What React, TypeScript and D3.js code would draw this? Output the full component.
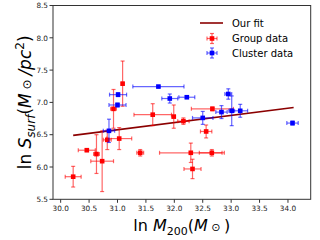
import React from "react";
import * as d3 from "d3";

// group data (red)
const groupX = [30.22, 30.46, 30.63, 30.73, 30.82, 31.03, 30.93, 31.09, 31.40, 31.62, 31.99, 32.16, 32.67, 32.56, 32.29, 32.66, 32.32];
const groupY = [5.85, 6.26, 6.20, 6.09, 6.42, 6.44, 6.90, 7.29, 6.22, 6.81, 6.78, 6.71, 6.90, 6.55, 6.22, 6.22, 5.97];
const groupXErr = [0.14, 0.15, 0.05, 0.2, 0.07, 0.22, 0.05, 0.02, 0.06, 0.33, 0.03, 0.1, 0.37, 0.1, 0.55, 0.22, 0.15];
const groupYErr = [0.16, 0.02, 0.3, 0.47, 0.15, 0.17, 0.3, 0.35, 0.05, 0.17, 0.18, 0.05, 0.03, 0.1, 0.15, 0.05, 0.15];

// cluster data (blue)
const clusterX = [31.01, 31.0, 30.85, 31.72, 31.92, 32.22, 32.5, 32.95, 33.01, 32.83, 33.16, 34.08];
const clusterY = [7.12, 6.96, 6.56, 7.245, 7.06, 7.08, 6.76, 7.13, 6.87, 6.85, 6.87, 6.68];
const clusterXErr = [0.15, 0.15, 0.1, 0.45, 0.14, 0.14, 0.18, 0.06, 0.05, 0.1, 0.13, 0.1];
const clusterYErr = [0.03, 0.03, 0.18, 0.01, 0.07, 0.02, 0.1, 0.08, 0.23, 0.1, 0.1, 0.03];

// fit line endpoints
const fitX = [30.22, 34.1];
const fitY = [6.49, 6.92];

const xTicks = [30.0, 30.5, 31.0, 31.5, 32.0, 32.5, 33.0, 33.5, 34.0];
const yTicks = [5.5, 6.0, 6.5, 7.0, 7.5, 8.0, 8.5];

const W = 320, H = 240;
const left = 53, right = 310.7, top = 5.5, bottom = 199.3;
const font = "DejaVu Sans, sans-serif";

const x = d3.scaleLinear().domain([29.865, 34.4]).range([left, right]);
const y = d3.scaleLinear().domain([5.5, 8.5]).range([bottom, top]);
const fmt = d3.format(".1f");

const ErrPoints = ({ xs, ys, xe, ye, color }) => (
  <g>
    {xs.map((v, i) => {
      const cx = x(v), cy = y(ys[i]);
      const x0 = x(v - xe[i]), x1 = x(v + xe[i]);
      const y0 = y(ys[i] - ye[i]), y1 = y(ys[i] + ye[i]);
      return (
        <g key={i} stroke={color} strokeOpacity={0.6} strokeWidth={1.2}>
          <line x1={x0} x2={x1} y1={cy} y2={cy} />
          <line x1={cx} x2={cx} y1={y0} y2={y1} />
          <line x1={x0} x2={x0} y1={cy - 2} y2={cy + 2} />
          <line x1={x1} x2={x1} y1={cy - 2} y2={cy + 2} />
          <line x1={cx - 2} x2={cx + 2} y1={y0} y2={y0} />
          <line x1={cx - 2} x2={cx + 2} y1={y1} y2={y1} />
          <rect x={cx - 2.3} y={cy - 2.3} width={4.6} height={4.6} fill={color} stroke="none" />
        </g>
      );
    })}
  </g>
);

const LegendMark = ({ cx, cy, color }) => (
  <g stroke={color} strokeOpacity={0.6} strokeWidth={1.2}>
    <line x1={cx - 5} x2={cx + 5} y1={cy} y2={cy} />
    <line x1={cx} x2={cx} y1={cy - 5} y2={cy + 5} />
    <line x1={cx - 5} x2={cx - 5} y1={cy - 2} y2={cy + 2} />
    <line x1={cx + 5} x2={cx + 5} y1={cy - 2} y2={cy + 2} />
    <line x1={cx - 2} x2={cx + 2} y1={cy - 5} y2={cy - 5} />
    <line x1={cx - 2} x2={cx + 2} y1={cy + 5} y2={cy + 5} />
    <rect x={cx - 2.3} y={cy - 2.3} width={4.6} height={4.6} fill={color} stroke="none" />
  </g>
);

export default function App() {
  const line = d3.line().x(d => x(d[0])).y(d => y(d[1]));
  const fitPts = fitX.map((v, i) => [v, fitY[i]]);
  return (
    <svg width={W} height={H} style={{ position: "absolute", left: 0, top: 0 }} fontFamily={font}>
      <rect width={W} height={H} fill="white" />
      <path d={line(fitPts)} stroke="#8b0000" strokeWidth={1.6} fill="none" />
      <ErrPoints xs={groupX} ys={groupY} xe={groupXErr} ye={groupYErr} color="#ff0000" />
      <ErrPoints xs={clusterX} ys={clusterY} xe={clusterXErr} ye={clusterYErr} color="#0000ff" />
      <rect x={left} y={top} width={right - left} height={bottom - top} fill="none" stroke="#333" strokeWidth={1} />
      {xTicks.map(t => (
        <g key={t}>
          <line x1={x(t)} x2={x(t)} y1={bottom} y2={bottom + 3.5} stroke="#333" />
          <text x={x(t)} y={bottom + 12} fontSize={7.3} textAnchor="middle" fill="#222">{fmt(t)}</text>
        </g>
      ))}
      {yTicks.map(t => (
        <g key={t}>
          <line x1={left - 3.5} x2={left} y1={y(t)} y2={y(t)} stroke="#333" />
          <text x={left - 5} y={y(t) + 2.7} fontSize={7.3} textAnchor="end" fill="#222">{fmt(t)}</text>
        </g>
      ))}
      <text x={(left + right) / 2} y={231} fontSize={16} textAnchor="middle" fill="#000">
        ln <tspan fontStyle="italic">M</tspan><tspan fontSize={11} dy={4}>200</tspan>
        <tspan dy={-4}>(</tspan><tspan fontStyle="italic">M</tspan><tspan fontSize={11}> ⊙ </tspan>)
      </text>
      <text transform={`translate(31,${(top + bottom) / 2}) rotate(-90)`} fontSize={17} textAnchor="middle" fill="#000">
        ln <tspan fontStyle="italic">S</tspan><tspan fontSize={12} dy={4} fontStyle="italic">surf</tspan>
        <tspan dy={-4}>(</tspan><tspan fontStyle="italic">M</tspan><tspan fontSize={12}> ⊙ </tspan>
        <tspan fontStyle="italic">/pc</tspan><tspan fontSize={12} dy={-7}>2</tspan><tspan dy={7}>)</tspan>
      </text>
      <line x1={200} x2={223} y1={23} y2={23} stroke="#8b0000" strokeWidth={1.6} />
      <text x={232} y={26.5} fontSize={10}>Our fit</text>
      <LegendMark cx={212} cy={38.5} color="#ff0000" />
      <text x={232} y={42} fontSize={10}>Group data</text>
      <LegendMark cx={212} cy={53} color="#0000ff" />
      <text x={232} y={56.5} fontSize={10}>Cluster data</text>
    </svg>
  );
}
